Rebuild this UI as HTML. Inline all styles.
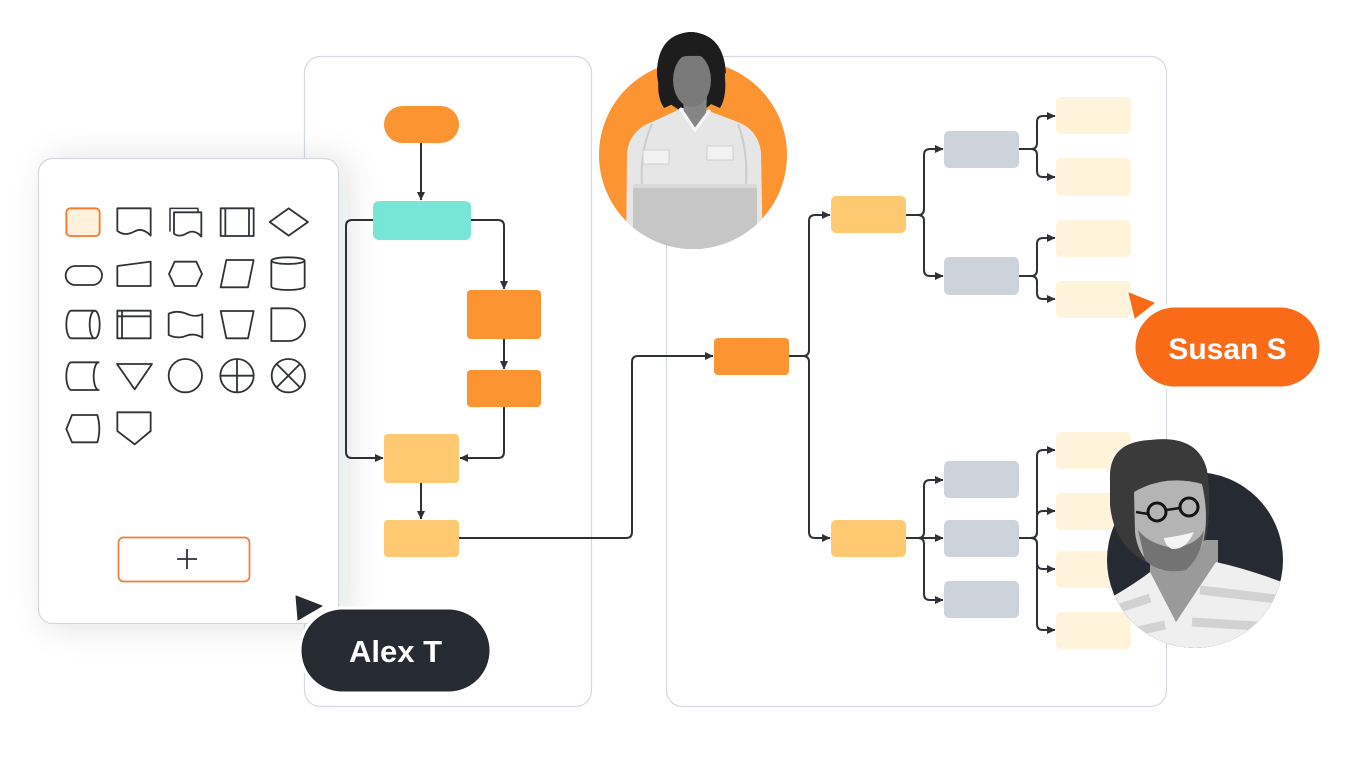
<!DOCTYPE html>
<html>
<head>
<meta charset="utf-8">
<style>
  html,body{margin:0;padding:0;background:#fff;}
  body{width:1360px;height:764px;overflow:hidden;}
  svg{display:block;}
  .lbl{font-family:"Liberation Sans",Arial,sans-serif;font-weight:700;fill:#fff;}
</style>
</head>
<body>
<svg width="1360" height="764" viewBox="0 0 1360 764" xmlns="http://www.w3.org/2000/svg">
  <defs>
    <marker id="ah" markerUnits="userSpaceOnUse" markerWidth="9" markerHeight="9" refX="8" refY="4.5" orient="auto">
      <path d="M0,0.5 L8.5,4.5 L0,8.5 Z" fill="#2e3136"/>
    </marker>
    <filter id="sh" x="-30%" y="-30%" width="160%" height="160%">
      <feDropShadow dx="8" dy="2" stdDeviation="16" flood-color="#1e2830" flood-opacity="0.13"/>
    </filter>
    <clipPath id="wclip">
      <circle cx="693" cy="155" r="94"/>
      <rect x="640" y="20" width="100" height="135"/>
    </clipPath>
    <clipPath id="mclip">
      <circle cx="1195" cy="560" r="88"/>
      <rect x="1100" y="425" width="115" height="135"/>
    </clipPath>
  </defs>

  <!-- panels -->
  <rect x="304.5" y="56.5" width="287" height="650" rx="16" fill="#fff" stroke="#d5d9e0" stroke-width="1.2"/>
  <rect x="666.5" y="56.5" width="500" height="650" rx="16" fill="#fff" stroke="#d5d9e0" stroke-width="1.2"/>

  <!-- middle flowchart nodes -->
  <rect x="384" y="106" width="75" height="37" rx="18.5" fill="#fc9432"/>
  <rect x="373" y="201" width="98" height="39" rx="6" fill="#77e5d7"/>
  <rect x="467" y="290" width="74" height="49" rx="4" fill="#fc9432"/>
  <rect x="467" y="370" width="74" height="37" rx="4" fill="#fc9432"/>
  <rect x="384" y="434" width="75" height="49" rx="4" fill="#ffc972"/>
  <rect x="384" y="520" width="75" height="37" rx="4" fill="#ffc972"/>

  <!-- middle connectors -->
  <g fill="none" stroke="#2e3136" stroke-width="2" stroke-linejoin="round">
    <path d="M421,143 V200" marker-end="url(#ah)"/>
    <path d="M373,220 H352 Q346,220 346,226 V452 Q346,458 352,458 H383" marker-end="url(#ah)"/>
    <path d="M471,220 H498 Q504,220 504,226 V289" marker-end="url(#ah)"/>
    <path d="M504,339 V369" marker-end="url(#ah)"/>
    <path d="M504,407 V452 Q504,458 498,458 H460" marker-end="url(#ah)"/>
    <path d="M421,483 V519" marker-end="url(#ah)"/>
    <path d="M459,538 H626 Q632,538 632,532 V362 Q632,356 638,356 H713" marker-end="url(#ah)"/>
  </g>

  <!-- right tree nodes -->
  <rect x="714" y="338" width="75" height="37" rx="4" fill="#fc9432"/>
  <rect x="831" y="196" width="75" height="37" rx="5" fill="#ffc972"/>
  <rect x="831" y="520" width="75" height="37" rx="5" fill="#ffc972"/>
  <g fill="#cdd3db">
    <rect x="944" y="131" width="75" height="37" rx="5"/>
    <rect x="944" y="257" width="75" height="38" rx="5"/>
    <rect x="944" y="461" width="75" height="37" rx="5"/>
    <rect x="944" y="520" width="75" height="37" rx="5"/>
    <rect x="944" y="581" width="75" height="37" rx="5"/>
  </g>
  <g fill="#fff3db">
    <rect x="1056" y="97" width="75" height="37" rx="5"/>
    <rect x="1056" y="158" width="75" height="38" rx="5"/>
    <rect x="1056" y="220" width="75" height="37" rx="5"/>
    <rect x="1056" y="281" width="75" height="37" rx="5"/>
    <rect x="1056" y="432" width="75" height="37" rx="5"/>
    <rect x="1056" y="493" width="75" height="37" rx="5"/>
    <rect x="1056" y="551" width="75" height="37" rx="5"/>
    <rect x="1056" y="612" width="75" height="37" rx="5"/>
  </g>

  <!-- right connectors -->
  <g fill="none" stroke="#2e3136" stroke-width="2" stroke-linejoin="round">
    <path d="M789,356 H803 Q809,356 809,350 V221 Q809,215 815,215 H830" marker-end="url(#ah)"/>
    <path d="M789,356 H803 Q809,356 809,362 V532 Q809,538 815,538 H830" marker-end="url(#ah)"/>
    <path d="M906,215 H918 Q924,215 924,209 V155 Q924,149 930,149 H943" marker-end="url(#ah)"/>
    <path d="M906,215 H918 Q924,215 924,221 V270 Q924,276 930,276 H943" marker-end="url(#ah)"/>
    <path d="M1019,149 H1031 Q1037,149 1037,143 V122 Q1037,116 1043,116 H1055" marker-end="url(#ah)"/>
    <path d="M1019,149 H1031 Q1037,149 1037,155 V171 Q1037,177 1043,177 H1055" marker-end="url(#ah)"/>
    <path d="M1019,276 H1031 Q1037,276 1037,270 V244 Q1037,238 1043,238 H1055" marker-end="url(#ah)"/>
    <path d="M1019,276 H1031 Q1037,276 1037,282 V293 Q1037,299 1043,299 H1055" marker-end="url(#ah)"/>
    <path d="M906,538 H918 Q924,538 924,532 V486 Q924,480 930,480 H943" marker-end="url(#ah)"/>
    <path d="M906,538 H943" marker-end="url(#ah)"/>
    <path d="M906,538 H918 Q924,538 924,544 V594 Q924,600 930,600 H943" marker-end="url(#ah)"/>
    <path d="M1019,538 H1031 Q1037,538 1037,532 V456 Q1037,450 1043,450 H1055" marker-end="url(#ah)"/>
    <path d="M1019,538 H1031 Q1037,538 1037,532 V517 Q1037,511 1043,511 H1055" marker-end="url(#ah)"/>
    <path d="M1019,538 H1031 Q1037,538 1037,544 V563 Q1037,569 1043,569 H1055" marker-end="url(#ah)"/>
    <path d="M1019,538 H1031 Q1037,538 1037,544 V624 Q1037,630 1043,630 H1055" marker-end="url(#ah)"/>
  </g>

  <!-- palette panel -->
  <rect x="38.5" y="158.5" width="300" height="465" rx="14" fill="#fff" stroke="#d3d7dd" stroke-width="1.2" filter="url(#sh)"/>
  <g transform="translate(38,155) scale(0.33333)" fill="none" stroke="#2f3237" stroke-width="5.4" stroke-linejoin="round">
    <!-- row 1 -->
    <rect x="85" y="160" width="100" height="83" rx="12" fill="#fff1db" stroke="#f7782a"/>
    <path d="M238,160 H338 V242 C325,228 310,220 292,228 C270,240 255,240 238,228 Z"/>
    <path d="M396,230 V160 H480 V172" stroke-width="4.5"/>
    <path d="M408,172 H490 V245 C478,230 462,226 448,234 C430,245 418,244 408,236 Z" fill="#fff"/>
    <rect x="548" y="160" width="99" height="83"/>
    <path d="M562,160 V243 M633,160 V243"/>
    <path d="M695,201 L752,160 L810,201 L752,242 Z"/>
    <!-- row 2 -->
    <rect x="83" y="333" width="109" height="57" rx="28.5"/>
    <path d="M238,333 L338,320 V393 H238 Z"/>
    <path d="M393,357 L410,320 H475 L492,357 L475,393 H410 Z"/>
    <path d="M548,397 L565,315 H647 L630,397 Z"/>
    <path d="M700,317 V395 A50,10 0 0 0 800,395 V317"/>
    <ellipse cx="750" cy="317" rx="50" ry="10"/>
    <!-- row 3 -->
    <path d="M100,467 H170 A15,41.5 0 0 1 170,550 H100 A15,41.5 0 0 1 100,467 Z"/>
    <path d="M170,467 A15,41.5 0 0 0 170,550"/>
    <rect x="238" y="467" width="100" height="83"/>
    <path d="M252,467 V550 M238,484 H338"/>
    <path d="M392,476 C410,468 430,470 445,476 C462,484 480,484 493,478 V548 C478,538 462,536 445,542 C428,550 408,548 392,540 Z"/>
    <path d="M548,468 H647 L630,550 H565 Z"/>
    <path d="M700,460 H752 A49,49 0 0 1 752,558 H700 Z"/>
    <!-- row 4 -->
    <path d="M100,622 H182 A15,41.5 0 0 0 182,705 H100 A15,41.5 0 0 1 100,622 Z"/>
    <path d="M237,627 H342 L290,703 Z"/>
    <circle cx="442" cy="662" r="50"/>
    <circle cx="597" cy="662" r="50"/>
    <path d="M547,662 H647 M597,612 V712"/>
    <circle cx="751" cy="662" r="50"/>
    <path d="M716,627 L786,697 M786,627 L716,697"/>
    <!-- row 5 -->
    <path d="M102,780 H178 Q190,822 178,862 H102 L85,822 Z"/>
    <path d="M238,772 H338 V828 L290,868 L238,828 Z"/>
  </g>
  <!-- plus button -->
  <rect x="118.5" y="537.5" width="131" height="44" rx="5" fill="#fff" stroke="#f07b35" stroke-width="1.7"/>
  <path d="M177,559 H197 M187,549 V569" stroke="#2f3338" stroke-width="1.8"/>

  <!-- woman photo -->
  <circle cx="693" cy="155" r="94" fill="#fc9432"/>
  <g clip-path="url(#wclip)">
    <ellipse cx="691" cy="72" rx="34" ry="40" fill="#1d1d1d"/>
    <path d="M626,260 L627,152 Q630,130 652,122 L682,108 L706,110 L738,122 Q758,130 761,152 L763,260 Z" fill="#e6e6e6"/>
    <path d="M652,124 Q640,150 642,185 M738,124 Q748,150 746,185" stroke="#cccccc" stroke-width="2" fill="none"/>
    <rect x="643" y="150" width="26" height="14" fill="#f2f2f2" stroke="#cfcfcf" stroke-width="1"/>
    <rect x="707" y="146" width="26" height="14" fill="#f2f2f2" stroke="#cfcfcf" stroke-width="1"/>
    <path d="M683,94 L707,94 L706,116 L695,128 L684,116 Z" fill="#858585"/>
    <path d="M680,108 L695,130 L710,110" stroke="#f6f6f6" stroke-width="3" fill="none"/>
    <ellipse cx="692" cy="80" rx="19" ry="27" fill="#7a7a7a"/>
    <path d="M657,72 Q658,34 691,32 Q724,34 726,74 Q714,54 693,56 Q672,54 657,76 Z" fill="#1d1d1d"/>
    <path d="M660,70 Q655,95 664,108 L673,104 Q668,88 673,66 Z M724,70 Q728,95 720,108 L711,104 Q716,88 711,66 Z" fill="#1d1d1d"/>
    <rect x="633" y="184" width="124" height="90" rx="6" fill="#c6c6c6"/>
    <rect x="633" y="184" width="124" height="4" rx="2" fill="#d9d9d9"/>
  </g>

  <!-- man photo -->
  <circle cx="1195" cy="560" r="88" fill="#262b33"/>
  <g clip-path="url(#mclip)">
    <path d="M1150,540 L1218,540 L1218,566 L1176,622 L1150,574 Z" fill="#9a9a9a"/>
    <path d="M1100,604 Q1135,584 1150,572 L1176,622 L1216,562 Q1252,570 1292,586 L1292,662 L1100,662 Z" fill="#efefef"/>
    <path d="M1108,612 L1150,598 M1200,590 L1285,600 M1104,638 L1165,625 M1192,622 L1290,628" stroke="#d2d2d2" stroke-width="9" fill="none"/>
    <path d="M1110,480 Q1108,442 1150,440 Q1198,434 1207,470 Q1212,505 1206,540 L1146,562 Q1114,545 1110,505 Z" fill="#3a3a3a"/>
    <path d="M1134,492 Q1165,474 1202,484 Q1210,520 1202,546 Q1186,572 1160,570 Q1138,560 1135,532 Z" fill="#b4b4b4"/>
    <path d="M1138,530 Q1150,545 1175,548 Q1198,544 1204,530 Q1202,556 1186,570 Q1160,575 1145,560 Z" fill="#737373"/>
    <path d="M1110,482 Q1130,462 1170,470 Q1195,474 1206,470 Q1198,450 1165,448 Q1125,450 1110,482 Z" fill="#3a3a3a"/>
    <circle cx="1157" cy="512" r="9" fill="none" stroke="#151515" stroke-width="3"/>
    <circle cx="1189" cy="507" r="9" fill="none" stroke="#151515" stroke-width="3"/>
    <path d="M1166,510 L1180,508 M1148,514 L1136,512" stroke="#151515" stroke-width="2.5"/>
    <path d="M1164,538 Q1180,536 1194,532 Q1186,550 1172,549 Q1165,546 1164,538 Z" fill="#f4f4f4"/>
  </g>

  <!-- Susan label -->
  <rect x="1134" y="306" width="187" height="82" rx="41" fill="#f96b16" stroke="#fff" stroke-width="3"/>
  <path d="M1129,293 L1154,303 L1135,318 Z" fill="#f96b16" stroke="#fff" stroke-width="3" stroke-linejoin="round"/>
  <path d="M1129,293 L1154,303 L1135,318 Z" fill="#f96b16" stroke="#f96b16" stroke-width="1" stroke-linejoin="round"/>
  <text x="1227.5" y="359" text-anchor="middle" class="lbl" font-size="30">Susan S</text>

  <!-- Alex label -->
  <rect x="300" y="608" width="191" height="85" rx="42.5" fill="#262b33" stroke="#fff" stroke-width="3"/>
  <path d="M296,596 L322,606 L298,620 Z" fill="#262b33" stroke="#fff" stroke-width="3" stroke-linejoin="round"/>
  <path d="M296,596 L322,606 L298,620 Z" fill="#262b33" stroke="#262b33" stroke-width="1" stroke-linejoin="round"/>
  <text x="395.5" y="662" text-anchor="middle" class="lbl" font-size="31">Alex T</text>
</svg>
</body>
</html>
